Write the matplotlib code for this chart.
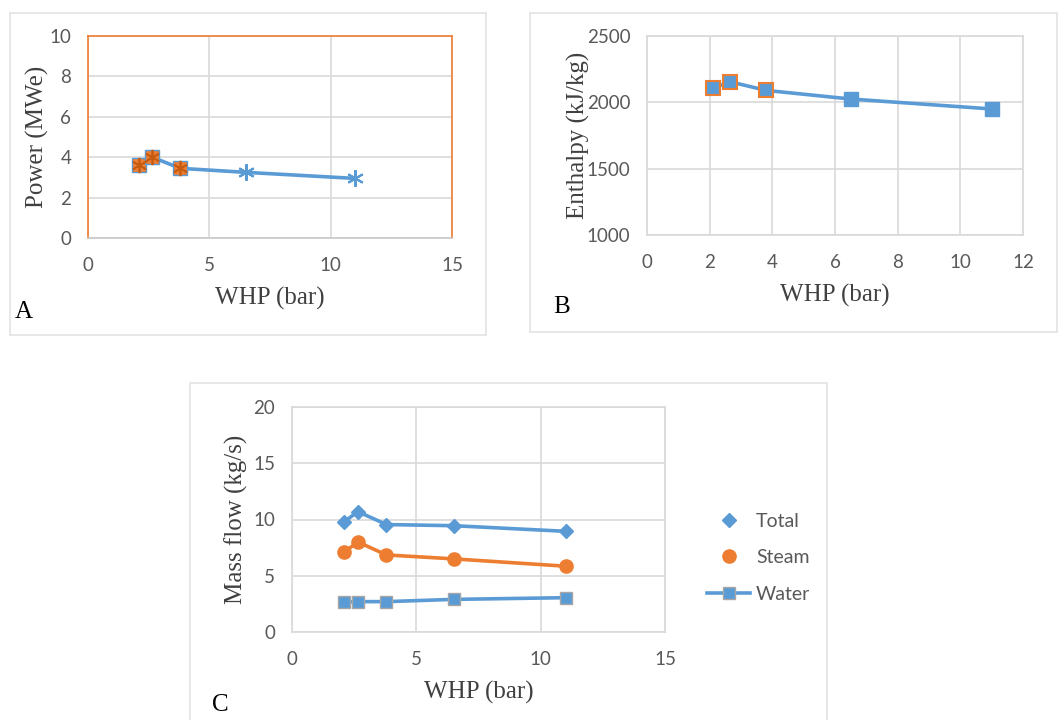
import matplotlib
matplotlib.use("Agg")
import matplotlib.pyplot as plt
from matplotlib.patches import Rectangle
from matplotlib.lines import Line2D

# ---- data ----
whp = [2.1, 2.65, 3.8, 6.5, 11.0]
power = [3.6, 4.0, 3.45, 3.25, 2.95]
enthalpy = [2105, 2155, 2090, 2025, 1950]
total = [9.8, 10.7, 9.55, 9.45, 8.95]
steam = [7.1, 8.0, 6.85, 6.5, 5.85]
water = [2.65, 2.7, 2.7, 2.9, 3.05]
n_highlight = 3  # first three points highlighted in orange

BLUE = "#5b9bd5"
ORANGE = "#ed7d31"
GRID = "#d9d9d9"
TICK = "#595959"
SERIF = "Liberation Serif"
SANS = "Lato"
LABEL_FS = 18

W, H = 1058, 720
fig = plt.figure(figsize=(W / 100, H / 100), dpi=100)

def box(x0, y0, x1, y1):
    fig.patches.append(Rectangle((x0 / W, 1 - y1 / H), (x1 - x0) / W, (y1 - y0) / H,
                                 transform=fig.transFigure, fill=False,
                                 edgecolor="#e3e3e3", linewidth=1.2))

def mkax(x0, y0, x1, y1):
    return fig.add_axes([x0 / W, 1 - y1 / H, (x1 - x0) / W, (y1 - y0) / H])

def style(ax):
    ax.grid(True, color=GRID, linewidth=1.2)
    ax.set_axisbelow(True)
    for s in ax.spines.values():
        s.set_color(GRID)
        s.set_linewidth(1.2)
    ax.tick_params(length=0, labelsize=13.5, labelcolor=TICK)
    ax.tick_params(axis="x", pad=14)
    ax.tick_params(axis="y", pad=12)
    for lab in ax.get_xticklabels() + ax.get_yticklabels():
        lab.set_fontfamily(SANS)

def labels(ax, xl, yl, ypad):
    ax.set_xlabel(xl, fontfamily=SERIF, fontsize=LABEL_FS, color="#404040", labelpad=9)
    ax.set_ylabel(yl, fontfamily=SERIF, fontsize=LABEL_FS, color="#404040", labelpad=ypad)

# ---- Panel A ----
box(10, 13, 486, 335)
axA = mkax(88, 36, 452, 238)
axA.set_xlim(0, 15)
axA.set_ylim(0, 10)
axA.set_xticks([0, 5, 10, 15])
axA.set_yticks([0, 2, 4, 6, 8, 10])
style(axA)
for k in ["top", "right", "left"]:
    axA.spines[k].set_color(ORANGE)
axA.spines["bottom"].set_color("#c9c9c9")
axA.plot(whp, power, color=BLUE, linewidth=2.6, zorder=3)
axA.plot(whp[:n_highlight], power[:n_highlight], linestyle="none", marker="s",
         markersize=10, markerfacecolor=ORANGE, markeredgecolor=BLUE,
         markeredgewidth=1.0, zorder=4)
axA.plot(whp[:n_highlight], power[:n_highlight], linestyle="none", marker=(6, 2, 0),
         markersize=11, markeredgecolor="#c55a11", markeredgewidth=1.2, zorder=5)
axA.plot(whp[n_highlight:], power[n_highlight:], linestyle="none", marker=(6, 2, 0),
         markersize=12, markeredgecolor=BLUE, markeredgewidth=1.5, zorder=5)
labels(axA, "WHP (bar)", "Power (MWe)", 0.3)
fig.text(15 / W, 1 - 312 / H, "A", fontfamily=SERIF, fontsize=18, va="center", ha="left")

# ---- Panel B ----
box(530, 13, 1057, 332)
axB = mkax(647, 36, 1023, 235)
axB.set_xlim(0, 12)
axB.set_ylim(1000, 2500)
axB.set_xticks(range(0, 13, 2))
axB.set_yticks([1000, 1500, 2000, 2500])
style(axB)
axB.plot(whp, enthalpy, color=BLUE, linewidth=2.6, zorder=3)
axB.plot(whp[:n_highlight], enthalpy[:n_highlight], linestyle="none", marker="s",
         markersize=10, markerfacecolor=BLUE, markeredgecolor=ORANGE,
         markeredgewidth=1.5, zorder=4)
axB.plot(whp[n_highlight:], enthalpy[n_highlight:], linestyle="none", marker="s",
         markersize=10, markerfacecolor=BLUE, markeredgecolor=BLUE, zorder=4)
labels(axB, "WHP (bar)", "Enthalpy (kJ/kg)", -2.6)
fig.text(553 / W, 1 - 307 / H, "B", fontfamily=SERIF, fontsize=18, va="center", ha="left")

# ---- Panel C ----
box(190, 383, 827, 722)
axC = mkax(292, 407, 665, 632)
axC.set_xlim(0, 15)
axC.set_ylim(0, 20)
axC.set_xticks([0, 5, 10, 15])
axC.set_yticks([0, 5, 10, 15, 20])
style(axC)
axC.plot(whp, total, color=BLUE, linewidth=2.6, marker="D", markersize=7.5, zorder=4)
axC.plot(whp, steam, color=ORANGE, linewidth=2.6, marker="o", markersize=9.5, zorder=4)
axC.plot(whp, water, color=BLUE, linewidth=2.6, marker="s", markersize=9,
         markeredgecolor="#a6a6a6", markeredgewidth=1.0, zorder=4)
labels(axC, "WHP (bar)", "Mass flow (kg/s)", 3.8)
handles = [
    Line2D([], [], color=BLUE, linestyle="none", marker="D", markersize=7.5),
    Line2D([], [], color=ORANGE, linestyle="none", marker="o", markersize=9.5),
    Line2D([], [], color=BLUE, linewidth=2.6, marker="s", markersize=9,
           markeredgecolor="#a6a6a6", markeredgewidth=1.0),
]
leg = axC.legend(handles, ["Total", "Steam", "Water"], loc="center left",
                 bbox_to_anchor=(1.067, 0.33), frameon=False, handlelength=2.2,
                 labelspacing=1.0, handletextpad=0.3,
                 prop={"family": SANS, "size": 14})
for t in leg.get_texts():
    t.set_color(TICK)
fig.text(212 / W, 1 - 705 / H, "C", fontfamily=SERIF, fontsize=18, va="center", ha="left")

fig.savefig("out.png", dpi=100, facecolor="white")
